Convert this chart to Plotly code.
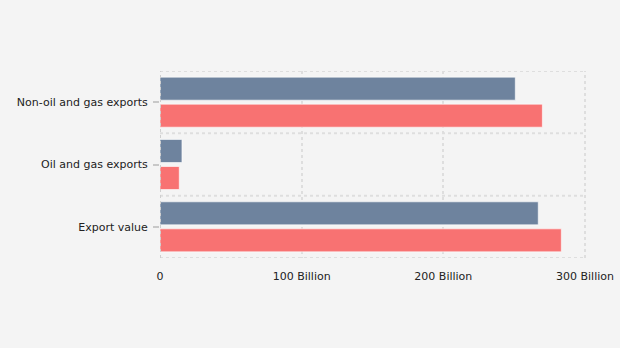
import plotly.graph_objects as go

# Export categories (bottom to top) and values in US$ billions
categories = ["Export value", "Oil and gas exports", "Non-oil and gas exports"]
series_red = [283.3, 13.6, 269.9]
series_slate = [267.0, 15.5, 250.8]
x_ticks = [0, 100, 200, 300]
x_tick_labels = ["0", "100 Billion", "200 Billion", "300 Billion"]

BG = "#f4f4f4"
GRID = "#dedede"
FONT = "DejaVu Sans"

fig = go.Figure()
fig.add_trace(go.Bar(
    y=categories, x=series_red, orientation="h", name="red",
    marker=dict(color="#f87272", line=dict(color="rgba(255,255,255,0.6)", width=1)),
    hoverinfo="x+y",
))
fig.add_trace(go.Bar(
    y=categories, x=series_slate, orientation="h", name="slate",
    marker=dict(color="#6e839e", line=dict(color="rgba(255,255,255,0.6)", width=1)),
    hoverinfo="x+y",
))

# dashed separators between category bands
shapes = []
for i in range(len(categories) + 1):
    shapes.append(dict(
        type="line", xref="paper", yref="y", x0=0, x1=1,
        y0=i - 0.5, y1=i - 0.5,
        line=dict(color=GRID, width=2, dash="3px,3px"), layer="below",
    ))
# dashed right edge of the plotting area
shapes.append(dict(
    type="line", xref="paper", yref="paper", x0=1, x1=1, y0=0, y1=1,
    line=dict(color=GRID, width=2, dash="3px,3px"), layer="below",
))
# darker dashed base line at zero
shapes.append(dict(
    type="line", xref="x", yref="paper", x0=0, x1=0, y0=0, y1=1,
    line=dict(color="#cfcfcf", width=2, dash="3px,3px"), layer="above",
))

fig.update_layout(
    width=620, height=348,
    margin=dict(l=160, r=35, t=71, b=90),
    paper_bgcolor=BG, plot_bgcolor=BG,
    barmode="group", bargap=0.133, bargroupgap=0.148,
    showlegend=False,
    font=dict(family=FONT, size=11, color="#222"),
    shapes=shapes,
    xaxis=dict(
        range=[0, 300], tickvals=x_ticks, ticktext=x_tick_labels,
        showgrid=True, gridcolor=GRID, gridwidth=2, griddash="3px,3px",
        zeroline=False, showline=False, automargin=False,
        ticks="outside", ticklen=8, tickcolor="rgba(0,0,0,0)",
        tickfont=dict(family=FONT, size=11, color="#222"),
        fixedrange=True,
    ),
    yaxis=dict(
        categoryorder="array", categoryarray=categories,
        range=[-0.5, len(categories) - 0.5],
        showgrid=False, zeroline=False, showline=False, automargin=False,
        ticks="outside", ticklen=6, tickwidth=2, tickcolor="#c8c8c8",
        ticklabelstandoff=3,
        tickfont=dict(family=FONT, size=11, color="#222"),
        fixedrange=True,
    ),
)

fig.write_html("out.html")
